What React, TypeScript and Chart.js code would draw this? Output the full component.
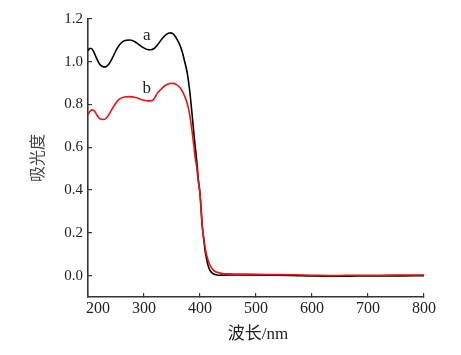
import React, { useEffect, useRef } from "react";
import { Chart, registerables } from "chart.js";
Chart.register(...registerables);

// Curve a (black)
const wavelengthA = [200, 203, 206, 210, 215, 220, 226, 231, 237, 244, 252, 260, 268, 275, 283, 291, 299, 306, 312, 318, 325, 333, 340, 347, 353, 359, 365, 369, 372, 377, 382, 386, 390, 394, 397, 400, 402, 404, 407, 409, 412, 415, 418, 422, 427, 433, 450, 480, 520, 560, 600, 640, 680, 720, 760, 800];
const absorbanceA = [1.052, 1.062, 1.062, 1.048, 1.018, 0.992, 0.978, 0.976, 0.988, 1.02, 1.063, 1.09, 1.101, 1.102, 1.095, 1.08, 1.066, 1.057, 1.056, 1.062, 1.082, 1.11, 1.128, 1.135, 1.128, 1.105, 1.072, 1.04, 1.008, 0.95, 0.855, 0.75, 0.64, 0.54, 0.45, 0.384, 0.31, 0.232, 0.165, 0.118, 0.075, 0.042, 0.024, 0.012, 0.005, 0.002, 0.003, 0.003, 0.002, 0.001, -0.002, -0.003, -0.002, -0.001, -0.001, 0.0];

// Curve b (red)
const wavelengthB = [200, 204, 208, 212, 217, 222, 228, 233, 240, 248, 256, 265, 275, 285, 293, 300, 308, 314, 318, 323, 330, 338, 346, 352, 358, 364, 370, 376, 380, 384, 388, 391, 394, 397, 400, 402, 404, 407, 410, 414, 418, 423, 428, 433, 440, 450, 480, 520, 560, 600, 640, 680, 720, 760, 800];
const absorbanceB = [0.752, 0.77, 0.775, 0.768, 0.746, 0.732, 0.73, 0.737, 0.765, 0.8, 0.825, 0.835, 0.837, 0.833, 0.826, 0.82, 0.817, 0.818, 0.826, 0.85, 0.87, 0.889, 0.898, 0.899, 0.893, 0.88, 0.855, 0.815, 0.775, 0.71, 0.63, 0.56, 0.509, 0.44, 0.384, 0.31, 0.232, 0.17, 0.119, 0.075, 0.048, 0.028, 0.018, 0.014, 0.01, 0.008, 0.007, 0.005, 0.004, 0.002, 0.0, 0.002, 0.002, 0.003, 0.003];

const xTicks = [200, 300, 400, 500, 600, 700, 800];
const yTicks = [0.0, 0.2, 0.4, 0.6, 0.8, 1.0, 1.2];
const xTitle = "波长/nm";
const yTitle = "吸光度";
const curveNames = ["a", "b"];
const curveNameAt = [
  [305, 1.125],
  [305, 0.877],
];

const SERIF = '"Liberation Serif", "Times New Roman", serif';
const TEXT = "#222";
const AXIS = "#333";

const overlay = {
  id: "overlay",
  afterDraw(chart: any) {
    const { ctx, chartArea } = chart;
    const x = chart.scales.x;
    const y = chart.scales.y;
    ctx.save();
    ctx.fillStyle = TEXT;
    // x tick labels
    ctx.font = `16px ${SERIF}`;
    ctx.textBaseline = "top";
    xTicks.forEach((v, i) => {
      const px = x.getPixelForValue(v);
      ctx.textAlign = i === 0 ? "left" : "center";
      ctx.fillText(String(v), i === 0 ? px - 2 : px, chartArea.bottom + 4);
    });
    // x title
    ctx.font = `17px ${SERIF}, "Noto Sans CJK SC"`;
    ctx.textAlign = "center";
    ctx.textBaseline = "middle";
    ctx.fillText(xTitle, (chartArea.left + chartArea.right) / 2 + 2, chartArea.bottom + 38);
    // y title
    ctx.save();
    ctx.translate(37, (chartArea.top + chartArea.bottom) / 2);
    ctx.rotate(-Math.PI / 2);
    ctx.font = `16px "Noto Sans CJK SC"`;
    ctx.fillStyle = "#444";
    ctx.fillText(yTitle, 0, 0);
    ctx.restore();
    // curve names
    ctx.font = `17px ${SERIF}`;
    curveNames.forEach((n, i) => {
      ctx.fillText(n, x.getPixelForValue(curveNameAt[i][0]), y.getPixelForValue(curveNameAt[i][1]));
    });
    ctx.restore();
  },
};

export default function App() {
  const ref = useRef<HTMLCanvasElement | null>(null);
  useEffect(() => {
    document.body.style.margin = "0";
    const canvas = ref.current;
    if (!canvas) return;
    const chart = new Chart(canvas, {
      type: "line",
      data: {
        datasets: [
          {
            label: "b",
            data: wavelengthB.map((w, i) => ({ x: w, y: absorbanceB[i] })),
            borderColor: "#ee1111",
            borderWidth: 1.6,
            pointRadius: 0,
            cubicInterpolationMode: "monotone",
            fill: false,
          },
          {
            label: "a",
            data: wavelengthA.map((w, i) => ({ x: w, y: absorbanceA[i] })),
            borderColor: "#000000",
            borderWidth: 1.6,
            pointRadius: 0,
            cubicInterpolationMode: "monotone",
            fill: false,
          },
        ],
      },
      options: {
        animation: false,
        responsive: false,
        layout: { padding: { top: 19, right: 37, left: 0, bottom: 0 } },
        plugins: { legend: { display: false }, tooltip: { enabled: false } },
        scales: {
          x: {
            type: "linear",
            min: 200,
            max: 800,
            afterBuildTicks: (s: any) => {
              s.ticks = xTicks.map((v) => ({ value: v }));
            },
            afterFit: (s: any) => {
              s.height = 58;
            },
            ticks: { display: false },
            grid: { drawOnChartArea: false, drawTicks: true, tickLength: -4, color: AXIS, lineWidth: 1.2 },
            border: { display: true, color: AXIS, width: 1.6 },
          },
          y: {
            type: "linear",
            min: -0.1,
            max: 1.2,
            afterBuildTicks: (s: any) => {
              s.ticks = yTicks.map((v) => ({ value: v }));
            },
            afterFit: (s: any) => {
              s.width = 88;
            },
            ticks: {
              padding: 9,
              color: TEXT,
              font: { family: SERIF, size: 15 },
              callback: (v: any) => Number(v).toFixed(1),
            },
            grid: { drawOnChartArea: false, drawTicks: true, tickLength: -4, color: AXIS, lineWidth: 1.2 },
            border: { display: true, color: AXIS, width: 1.6 },
          },
        },
      },
      plugins: [overlay],
    } as any);
    return () => chart.destroy();
  }, []);
  return (
    <div style={{ width: 461, height: 355, background: "#fff" }}>
      <canvas ref={ref} width={461} height={355} style={{ display: "block", width: 461, height: 355 }} />
    </div>
  );
}
